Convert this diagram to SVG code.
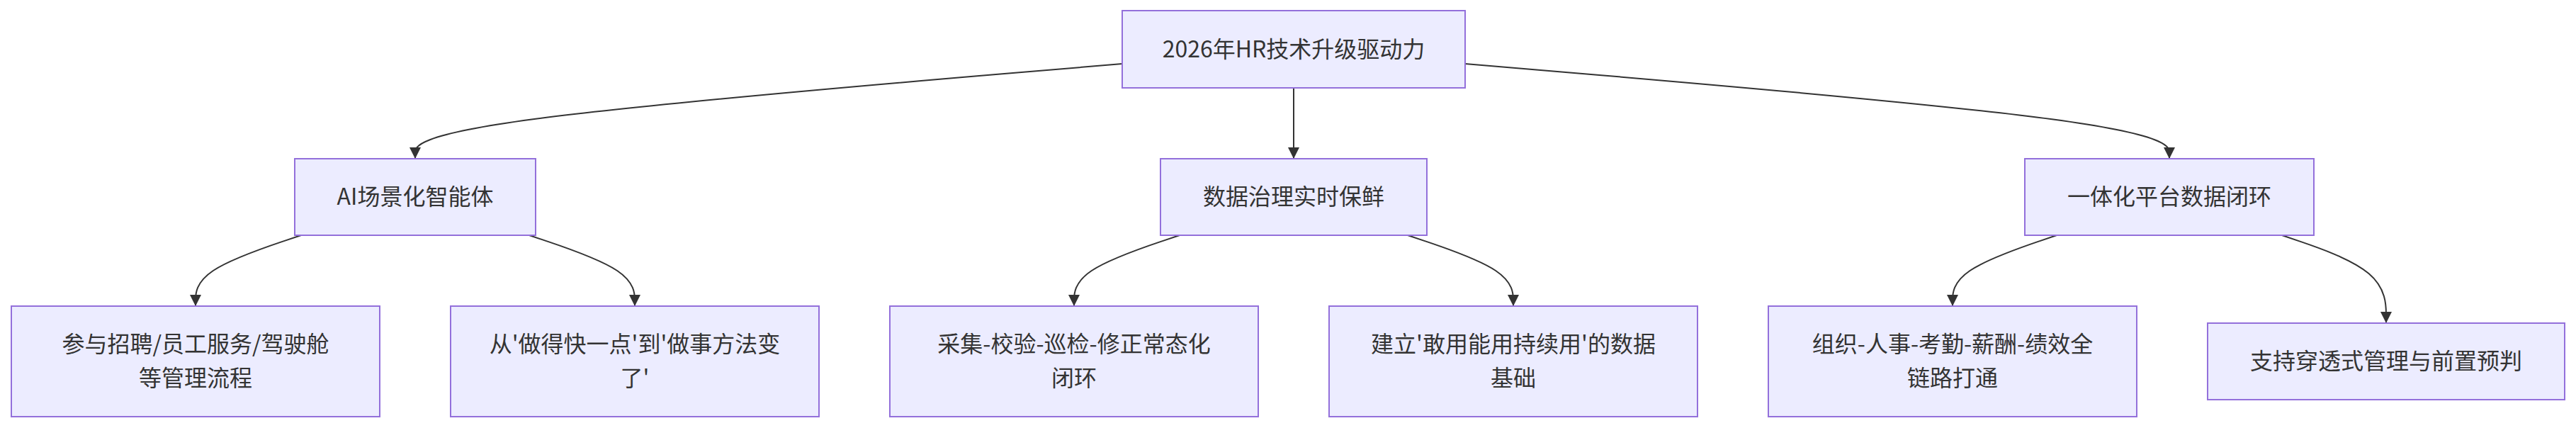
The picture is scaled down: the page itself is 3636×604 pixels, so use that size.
<svg xmlns="http://www.w3.org/2000/svg" width="3636" height="604" viewBox="0 0 3636 604">
<style>
.node rect{fill:#ECECFF;stroke:#9370DB;stroke-width:2}
.node text{font-family:"Noto Sans CJK SC","Noto Sans",sans-serif;font-size:32px;fill:#333333;text-anchor:middle}
.edges path{fill:none;stroke:#333333;stroke-width:2}
</style>
<defs>
<marker id="arrow" viewBox="0 0 10 10" refX="10" refY="5" markerWidth="16" markerHeight="16" markerUnits="userSpaceOnUse" orient="auto">
<path d="M0,0 L10,5 L0,10 z" fill="#333333"/>
</marker>
</defs>
<rect width="3636" height="604" fill="#ffffff"/>
<g class="edges">
<path marker-end="url(#arrow)" d="M1584,90 L1417.67,104 C1251.33,118 918.67,146 752.33,168.33 C586,190.67 586,207.33 586,215.67 L586,224"/>
<path marker-end="url(#arrow)" d="M1826,124 L1826,224"/>
<path marker-end="url(#arrow)" d="M2068,90 L2233.67,104 C2399.33,118 2730.67,146 2896.33,168.33 C3062,190.67 3062,207.33 3062,215.67 L3062,224"/>
<path marker-end="url(#arrow)" d="M425,332 L400.17,340.33 C375.33,348.67 325.67,365.33 300.83,382 C276,398.67 276,415.33 276,423.67 L276,432"/>
<path marker-end="url(#arrow)" d="M747,332 L771.83,340.33 C796.67,348.67 846.33,365.33 871.17,382 C896,398.67 896,415.33 896,423.67 L896,432"/>
<path marker-end="url(#arrow)" d="M1665,332 L1640.17,340.33 C1615.33,348.67 1565.67,365.33 1540.83,382 C1516,398.67 1516,415.33 1516,423.67 L1516,432"/>
<path marker-end="url(#arrow)" d="M1987,332 L2011.83,340.33 C2036.67,348.67 2086.33,365.33 2111.17,382 C2136,398.67 2136,415.33 2136,423.67 L2136,432"/>
<path marker-end="url(#arrow)" d="M2903,332 L2878.5,340.33 C2854,348.67 2805,365.33 2780.5,382 C2756,398.67 2756,415.33 2756,423.67 L2756,432"/>
<path marker-end="url(#arrow)" d="M3221,332 L3245.5,340.33 C3270,348.67 3319,365.33 3343.5,386 C3368,406.67 3368,431.33 3368,443.67 L3368,456"/>
</g>
<g id="root" class="node">
<rect x="1584" y="15" width="484" height="109"/>
<text x="1826" y="80.5">2026年HR技术升级驱动力</text>
</g>
<g id="ai" class="node">
<rect x="416" y="224" width="340" height="108"/>
<text x="586" y="288.5">AI场景化智能体</text>
</g>
<g id="data" class="node">
<rect x="1638" y="224" width="376" height="108"/>
<text x="1826" y="288.5">数据治理实时保鲜</text>
</g>
<g id="platform" class="node">
<rect x="2858" y="224" width="408" height="108"/>
<text x="3062" y="288.5">一体化平台数据闭环</text>
</g>
<g id="b1" class="node">
<rect x="16" y="432" width="520" height="156"/>
<text x="276" y="496.5">参与招聘/员工服务/驾驶舱</text>
<text x="276" y="544.5">等管理流程</text>
</g>
<g id="b2" class="node">
<rect x="636" y="432" width="520" height="156"/>
<text x="896" y="496.5">从'做得快一点'到'做事方法变</text>
<text x="896" y="544.5">了'</text>
</g>
<g id="b3" class="node">
<rect x="1256" y="432" width="520" height="156"/>
<text x="1516" y="496.5">采集-校验-巡检-修正常态化</text>
<text x="1516" y="544.5">闭环</text>
</g>
<g id="b4" class="node">
<rect x="1876" y="432" width="520" height="156"/>
<text x="2136" y="496.5">建立'敢用能用持续用'的数据</text>
<text x="2136" y="544.5">基础</text>
</g>
<g id="b5" class="node">
<rect x="2496" y="432" width="520" height="156"/>
<text x="2756" y="496.5">组织-人事-考勤-薪酬-绩效全</text>
<text x="2756" y="544.5">链路打通</text>
</g>
<g id="b6" class="node">
<rect x="3116" y="456" width="504" height="108"/>
<text x="3368" y="520.5">支持穿透式管理与前置预判</text>
</g>
</svg>
